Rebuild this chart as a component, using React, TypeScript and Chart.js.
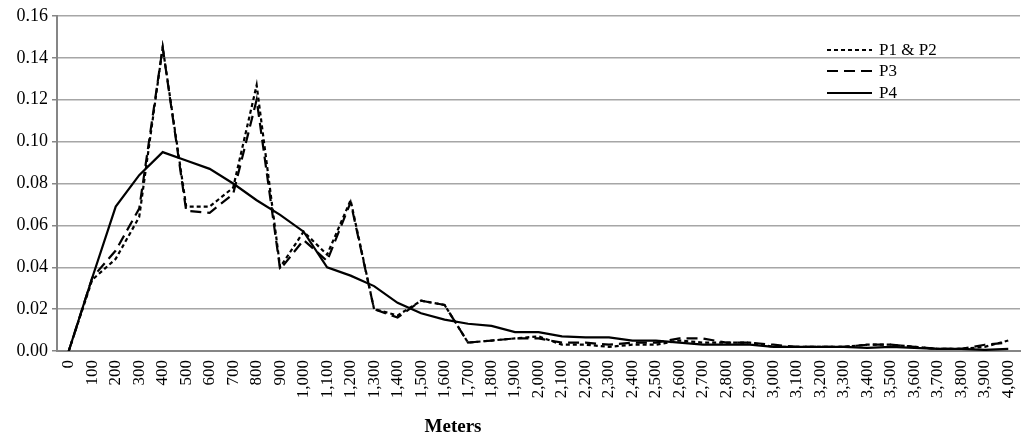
import React, { useEffect, useRef } from "react";
import { Chart, registerables } from "chart.js";

Chart.register(...registerables);

const categories: string[] = [
  "0", "100", "200", "300", "400", "500", "600", "700", "800", "900",
  "1,000", "1,100", "1,200", "1,300", "1,400", "1,500", "1,600", "1,700", "1,800", "1,900",
  "2,000", "2,100", "2,200", "2,300", "2,400", "2,500", "2,600", "2,700", "2,800", "2,900",
  "3,000", "3,100", "3,200", "3,300", "3,400", "3,500", "3,600", "3,700", "3,800", "3,900",
  "4,000",
];

const p1p2: number[] = [
  0, 0.034, 0.044, 0.064, 0.145, 0.069, 0.069, 0.078, 0.127, 0.040,
  0.057, 0.046, 0.072, 0.020, 0.017, 0.024, 0.022, 0.004, 0.005, 0.006,
  0.007, 0.003, 0.003, 0.002, 0.003, 0.003, 0.005, 0.004, 0.004, 0.004,
  0.002, 0.002, 0.002, 0.002, 0.003, 0.003, 0.002, 0.001, 0.001, 0.002,
  0.005,
];

const p3: number[] = [
  0, 0.035, 0.048, 0.068, 0.145, 0.067, 0.066, 0.075, 0.120, 0.039,
  0.053, 0.043, 0.071, 0.020, 0.016, 0.024, 0.022, 0.004, 0.005, 0.006,
  0.006, 0.004, 0.004, 0.003, 0.004, 0.004, 0.006, 0.006, 0.004, 0.004,
  0.003, 0.002, 0.002, 0.002, 0.003, 0.003, 0.002, 0.001, 0.001, 0.003,
  0.004,
];

const p4: number[] = [
  0, 0.035, 0.069, 0.084, 0.095, 0.091, 0.087, 0.080, 0.072, 0.065,
  0.057, 0.040, 0.036, 0.031, 0.023, 0.018, 0.015, 0.013, 0.012, 0.009,
  0.009, 0.007, 0.0065, 0.0065, 0.005, 0.005, 0.004, 0.003, 0.003, 0.003,
  0.002, 0.002, 0.002, 0.002, 0.0015, 0.002, 0.0015, 0.001, 0.001, 0.0005,
  0.001,
];

const seriesLabels: string[] = ["P1 & P2", "P3", "P4"];
const axisTitle = "Meters";

const FONT = "'Liberation Serif', 'Times New Roman', serif";

const overlayPlugin = {
  id: "overlay",
  afterDraw(chart: any) {
    const ctx = chart.ctx as CanvasRenderingContext2D;
    ctx.save();
    // legend
    const ds = chart.data.datasets;
    const x0 = 827;
    const x1 = 872;
    const ys = [50, 71, 93];
    ds.forEach((d: any, i: number) => {
      const y = ys[i];
      ctx.beginPath();
      ctx.setLineDash(d.borderDash || []);
      ctx.lineWidth = d.borderWidth;
      ctx.strokeStyle = d.borderColor;
      ctx.moveTo(x0, y);
      ctx.lineTo(x1, y);
      ctx.stroke();
      ctx.setLineDash([]);
      ctx.fillStyle = "#000";
      ctx.font = `17px ${FONT}`;
      ctx.textBaseline = "middle";
      ctx.textAlign = "left";
      ctx.fillText(d.label, x1 + 7, y + 1);
    });
    // axis title
    ctx.font = `bold 19px ${FONT}`;
    ctx.textAlign = "center";
    ctx.textBaseline = "middle";
    ctx.fillStyle = "#000";
    ctx.fillText(axisTitle, 453, 427);
    ctx.restore();
  },
};

export default function App() {
  const ref = useRef<HTMLCanvasElement | null>(null);

  useEffect(() => {
    if (!ref.current) return;
    const chart = new Chart(ref.current, {
      type: "line",
      data: {
        labels: categories,
        datasets: [
          {
            label: seriesLabels[0],
            data: p1p2,
            borderColor: "#000",
            borderWidth: 2.2,
            borderDash: [4, 3],
            pointRadius: 0,
            tension: 0,
            fill: false,
          },
          {
            label: seriesLabels[1],
            data: p3,
            borderColor: "#000",
            borderWidth: 2.2,
            borderDash: [11, 6],
            pointRadius: 0,
            tension: 0,
            fill: false,
          },
          {
            label: seriesLabels[2],
            data: p4,
            borderColor: "#000",
            borderWidth: 2.2,
            pointRadius: 0,
            tension: 0,
            fill: false,
          },
        ],
      },
      options: {
        animation: false,
        responsive: true,
        maintainAspectRatio: false,
        layout: { padding: { top: 16, right: 13, left: 0, bottom: 0 } },
        plugins: {
          legend: { display: false },
          tooltip: { enabled: false },
        },
        scales: {
          x: {
            offset: true,
            grid: { display: false, drawTicks: false },
            border: { display: true, color: "#868686", width: 2 },
            ticks: {
              autoSkip: false,
              minRotation: 90,
              maxRotation: 90,
              color: "#000",
              padding: 9,
              font: { family: FONT, size: 17 },
            },
            afterFit(scale: any) {
              scale.height = 88;
              scale.paddingRight = 0;
              scale.paddingLeft = 0;
            },
          },
          y: {
            min: 0,
            max: 0.16,
            ticks: {
              stepSize: 0.02,
              color: "#000",
              padding: 4,
              font: { family: FONT, size: 18 },
              callback: (v: any) => Number(v).toFixed(2),
            },
            grid: {
              color: "#a6a6a6",
              lineWidth: 1.5,
              tickLength: 5,
              tickColor: "#868686",
            },
            border: { display: true, color: "#868686", width: 2 },
            afterFit(scale: any) {
              scale.width = 57;
            },
          },
        },
      },
      plugins: [overlayPlugin],
    });
    return () => chart.destroy();
  }, []);

  return (
    <div style={{ position: "absolute", left: 0, top: 0, width: 1033, height: 439, background: "#fff" }}>
      <canvas ref={ref} />
    </div>
  );
}
